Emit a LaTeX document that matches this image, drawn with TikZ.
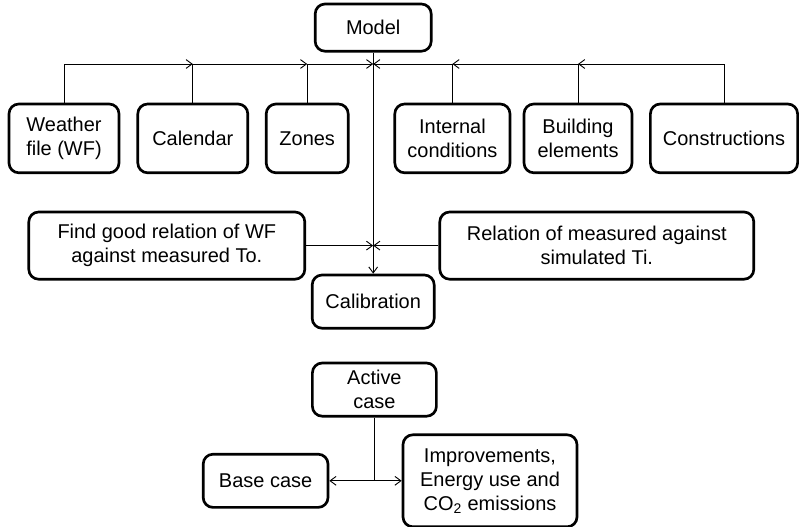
\documentclass[tikz,border=0pt]{standalone}
\usepackage{fontspec}
\setmainfont{Liberation Sans}
\usetikzlibrary{arrows.meta,positioning}

\begin{document}
\begin{tikzpicture}[box/.style={draw, line width=1.9pt, rounded corners=7pt, align=center, inner sep=0pt, minimum height=1.72cm, font=\fontsize{14.2}{17}\selectfont},
	link/.style={line width=0.65pt, -{Straight Barb[length=1.5mm,width=2.2mm]}}]

	\useasboundingbox (0,0) rectangle (20,13.15);

	\node (M) [box, minimum width=2.9cm, minimum height=1.18cm] at (9.33,12.46) {Model};
	\coordinate (bus) at (0,11.55);

	\node (W) [box, minimum width=2.75cm] at (1.6,9.69) {Weather\\file (WF)};
	\node (Ca) [box, minimum width=2.75cm] at (4.82,9.69) {Calendar};
	\node (Z) [box, minimum width=2.05cm] at (7.68,9.69) {Zones};
	\node (I) [box, minimum width=2.88cm] at (11.31,9.69) {Internal\\conditions};
	\node (Be) [box, minimum width=2.7cm] at (14.45,9.69) {Building\\elements};
	\node (Co) [box, minimum width=3.68cm] at (18.1,9.69) {Constructions};

	\node (F) [box, minimum width=6.9cm, minimum height=1.68cm] at (4.17,7.01) {Find good relation of WF\\against measured To.};
	\node (R) [box, minimum width=7.85cm, minimum height=1.68cm] at (14.92,7.01) {Relation of measured against\\simulated Ti.};
	\node (Cb) [box, minimum width=3.05cm, minimum height=1.33cm] at (9.33,5.61) {Calibration};

	\node (A) [box, minimum width=3.1cm, minimum height=1.33cm] at (9.36,3.41) {Active\\case};
	\node (Bc) [box, minimum width=3.12cm, minimum height=1.33cm] at (6.64,1.13) {Base case};
	\node (Im) [box, minimum width=4.35cm, minimum height=2.3cm] at (12.25,1.13) {Improvements,\\Energy use and\\CO\textsubscript{2} emissions};

	\draw [link] (W.north) |- (Ca.north |- bus);
	\draw [link] (Ca.north) |- (Z.north |- bus);
	\draw [link] (Z.north) |- (M.south |- bus);
	\draw [link] (Co.north) |- (Be.north |- bus);
	\draw [link] (Be.north) |- (I.north |- bus);
	\draw [link] (I.north) |- (M.south |- bus);

	\draw [link] (M.south) -- (Cb.north);
	\draw [link] (F.east) -- (F.east -| M.south);
	\draw [link] (R.west) -- (R.west -| M.south);

	\draw [link] (A.south) |- (Bc.east);
	\draw [link] (A.south) |- (Im.west);

\end{tikzpicture}
\end{document}
